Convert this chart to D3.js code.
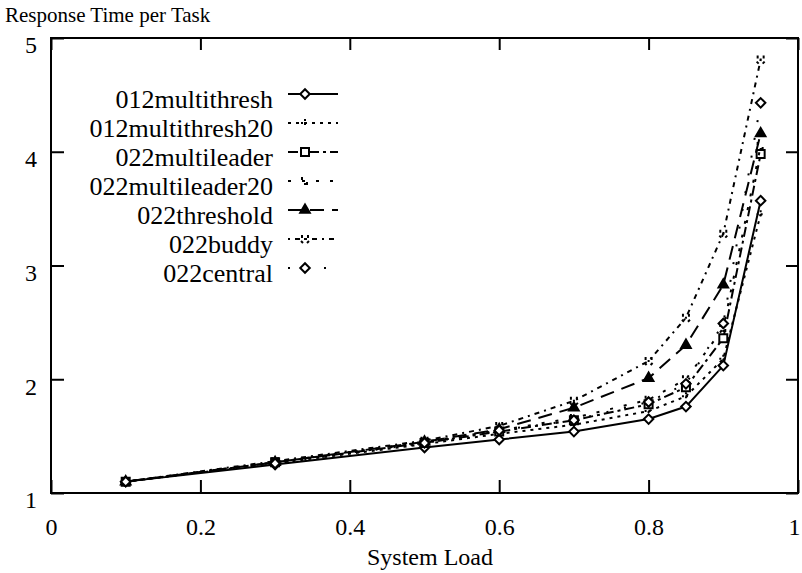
<!DOCTYPE html>
<html>
<head>
<meta charset="utf-8">
<script src="https://cdn.jsdelivr.net/npm/d3@7"></script>
<style>
  body { margin: 0; background: #fff; }
  svg text { font-family: "Liberation Serif", "Times New Roman", Times, serif; fill: #000; font-size: 20px; }
</style>
</head>
<body>
<div id="chart"></div>
<script>
// data
var loads = [0.1, 0.3, 0.5, 0.6, 0.7, 0.8, 0.85, 0.9, 0.95];
var seriesNames = ["012multithresh", "012multithresh20", "022multileader", "022multileader20",
                   "022threshold", "022buddy", "022central"];
var multithresh   = [1.10, 1.25, 1.40, 1.47, 1.54, 1.65, 1.76, 2.12, 3.57];
var multithresh20 = [1.10, 1.26, 1.43, 1.52, 1.60, 1.72, 1.85, 2.18, 3.45];
var multileader   = [1.10, 1.27, 1.44, 1.54, 1.64, 1.78, 1.93, 2.36, 3.98];
var multileader20 = [1.10, 1.27, 1.45, 1.55, 1.66, 1.82, 2.00, 2.45, 4.05];
var threshold     = [1.10, 1.27, 1.45, 1.56, 1.75, 2.01, 2.30, 2.83, 4.16];
var buddy         = [1.10, 1.28, 1.46, 1.59, 1.81, 2.16, 2.54, 3.28, 4.81];
var central       = [1.10, 1.26, 1.44, 1.55, 1.64, 1.80, 1.96, 2.49, 4.43];
var xTicks = [0, 0.2, 0.4, 0.6, 0.8, 1];
var xTickLabels = ["0", "0.2", "0.4", "0.6", "0.8", "1"];
var yTicks = [1, 2, 3, 4, 5];
var yTickLabels = ["1", "2", "3", "4", "5"];

var allValues = [multithresh, multithresh20, multileader, multileader20, threshold, buddy, central];

// styles per series
var dashes  = ["none", "3,5", "10,4,3,4", "3,11", "14,8", "2,5,5,5", "2,16"];
var markers = ["diamond", "plus", "square", "dots", "triangle", "star", "diamond"];

var W = 802, H = 573;
var BASE = 20; // text is set at 20px and scaled up
var svg = d3.select("#chart").append("svg").attr("width", W).attr("height", H);

var x = d3.scaleLinear().domain([0, 1]).range([51, 798]);
var y = d3.scaleLinear().domain([1, 5]).range([493, 38]);

function label(parent, px, py, str, size, anchor) {
  return parent.append("text")
    .attr("transform", "translate(" + px + "," + py + ") scale(" + (size / BASE) + ")")
    .attr("text-anchor", anchor || "start")
    .text(str);
}

//AXES
var xAxis = svg.append("g")
  .attr("transform", "translate(0," + y(1) + ")")
  .call(d3.axisBottom(x).tickValues(xTicks).tickSize(-13).tickPadding(24)
    .tickFormat(function(d, i) { return xTickLabels[i]; }));
xAxis.selectAll("text")
  .attr("transform", function(d) { return "translate(" + (d == 1 ? -4 : 0) + ",25) scale(" + (24 / BASE) + ")"; })
  .attr("y", 0).attr("dy", "0.71em");

var yAxis = svg.append("g")
  .attr("transform", "translate(" + x(0) + ",0)")
  .call(d3.axisLeft(y).tickValues(yTicks).tickSize(-13).tickPadding(14)
    .tickFormat(function(d, i) { return yTickLabels[i]; }));
yAxis.selectAll("text")
  .attr("transform", "translate(-14,0) scale(" + (24 / BASE) + ")")
  .attr("x", 0).attr("dy", "0.62em");

// mirrored ticks
svg.append("g").attr("transform", "translate(0," + y(5) + ")")
  .call(d3.axisTop(x).tickValues(xTicks).tickSize(-12).tickFormat(""));
svg.append("g").attr("transform", "translate(" + x(1) + ",0)")
  .call(d3.axisRight(y).tickValues(yTicks).tickSize(-12).tickFormat(""));

svg.selectAll(".domain").remove();
svg.selectAll("g").attr("font-family", null).attr("font-size", null);
svg.selectAll(".tick line").attr("stroke", "#000").attr("stroke-width", 2);
svg.selectAll(".tick text").attr("fill", "#000");

// frame
svg.append("rect")
  .attr("x", x(0)).attr("y", y(5))
  .attr("width", x(1) - x(0)).attr("height", y(1) - y(5))
  .attr("fill", "none").attr("stroke", "#000").attr("stroke-width", 2);

// titles
label(svg, 5, 22, "Response Time per Task", 21);
label(svg, 430, 565, "System Load", 24, "middle");

//MARKERS
function drawMarker(g, type, cx, cy) {
  var m;
  var tr = "translate(" + cx + "," + cy + ")";
  if (type == "diamond") {
    m = g.append("path").attr("d", d3.symbol().type(d3.symbolSquare).size(45)())
      .attr("transform", tr + " rotate(45)")
      .attr("fill", "#fff").attr("stroke-width", 2);
  } else if (type == "square") {
    m = g.append("path").attr("d", d3.symbol().type(d3.symbolSquare).size(64)())
      .attr("transform", tr).attr("fill", "#fff").attr("stroke-width", 2);
  } else if (type == "triangle") {
    m = g.append("path").attr("d", d3.symbol().type(d3.symbolTriangle).size(40)())
      .attr("transform", tr).attr("fill", "#000").attr("stroke-width", 2);
  } else if (type == "star") {
    m = g.append("path").attr("d", "M-3,-4V-1M3,-4V-1M-1,0H1M-4,2L-2,4M4,2L2,4")
      .attr("transform", tr).attr("fill", "none").attr("stroke-width", 2);
  } else if (type == "plus") {
    m = g.append("path").attr("d", "M-4,0H4M0,-4V4")
      .attr("transform", tr).attr("fill", "none").attr("stroke-width", 2)
      .attr("stroke-dasharray", "2,2");
  } else {
    m = g.append("path").attr("d", "M-3,-4V-1M2,1V4M-1,3H1")
      .attr("transform", tr).attr("fill", "none").attr("stroke-width", 2);
  }
  m.attr("stroke", "#000");
}

//LINES
var line = d3.line()
  .x(function(d) { return x(d[0]); })
  .y(function(d) { return y(d[1]); });

for (let i = 0; i < allValues.length; ++i) {
  var pts = loads.map(function(v, j) { return [v, allValues[i][j]]; });
  var g = svg.append("g");
  g.append("path")
    .datum(pts)
    .attr("fill", "none")
    .attr("stroke", "#000")
    .attr("stroke-width", 2)
    .attr("stroke-dasharray", dashes[i])
    .attr("d", line);
  pts.forEach(function(p) { drawMarker(g, markers[i], x(p[0]), y(p[1])); });
}

//LEGEND
for (let i = 0; i < seriesNames.length; ++i) {
  var ry = 94 + i * 29;
  var lg = svg.append("g");
  label(lg, 273, ry + 14, seriesNames[i], 26, "end");
  lg.append("line").attr("x1", 288).attr("x2", 338).attr("y1", ry).attr("y2", ry)
    .attr("stroke", "#000").attr("stroke-width", 2).attr("stroke-dasharray", dashes[i]);
  drawMarker(lg, markers[i], 305, ry);
}
</script>
</body>
</html>
